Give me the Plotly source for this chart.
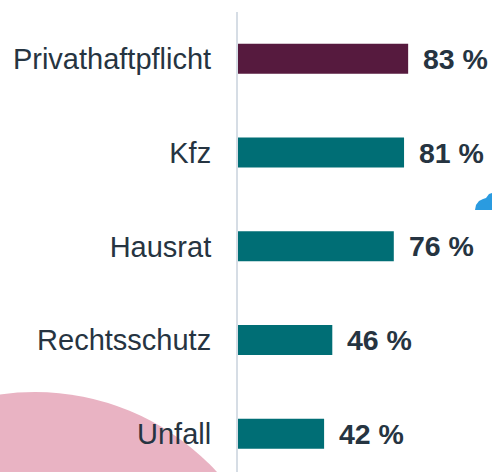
import plotly.graph_objects as go

categories = ["Privathaftpflicht", "Kfz", "Hausrat", "Rechtsschutz", "Unfall"]
values = [83, 81, 76, 46, 42]
value_labels = ["83 %", "81 %", "76 %", "46 %", "42 %"]
bar_colors = ["#561a3e", "#006e75", "#006e75", "#006e75", "#006e75"]

W, H = 492, 472
L, T = 238, 12
PW, PH = W - L, H - T

def px(x):
    return (x - L) / PW

def py(y):
    return 1 - (y - T) / PH

fig = go.Figure()
fig.add_trace(go.Bar(
    y=categories, x=values, orientation="h",
    marker=dict(color=bar_colors, line=dict(width=0)),
    width=0.32, hoverinfo="skip",
))

for c, v, t in zip(categories, values, value_labels):
    fig.add_annotation(x=v, y=c, text=t, showarrow=False, xanchor="left",
                       xshift=13, font=dict(family="Liberation Sans, Arial", size=28.5,
                                            color="#263441", weight="bold"))

# decorative pink circle
fig.add_shape(type="circle", xref="paper", yref="paper", layer="below",
              x0=px(35 - 247), x1=px(35 + 247), y0=py(639 + 247), y1=py(639 - 247),
              fillcolor="#e9b3c3", line=dict(width=0))
# small blue blob at right
pts = [(475, 210), (476, 205), (479, 201), (483, 199), (486, 198), (489, 194), (492, 193), (492, 210)]
path = "M " + " L ".join(f"{px(a):.4f},{py(b):.4f}" for a, b in pts) + " Z"
fig.add_shape(type="path", xref="paper", yref="paper", path=path,
              fillcolor="#2a9be0", line=dict(width=0), layer="below")

fig.update_layout(
    width=W, height=H,
    margin=dict(l=L, r=0, t=T, b=0),
    paper_bgcolor="white", plot_bgcolor="rgba(0,0,0,0)",
    showlegend=False,
    font=dict(family="Liberation Sans, Arial", color="#263441"),
    xaxis=dict(range=[0, PW / 2.05], visible=False, fixedrange=True),
    yaxis=dict(range=[4.407, -0.5], showline=True, linecolor="#d6dde5", linewidth=2,
               showgrid=False, zeroline=False, ticks="", ticklabelstandoff=19,
               tickfont=dict(size=29, color="#263441"), fixedrange=True),
)

fig.write_html("out.html", config={"displayModeBar": False},
               post_script="document.body.style.margin='0';document.body.style.overflow='hidden';")
